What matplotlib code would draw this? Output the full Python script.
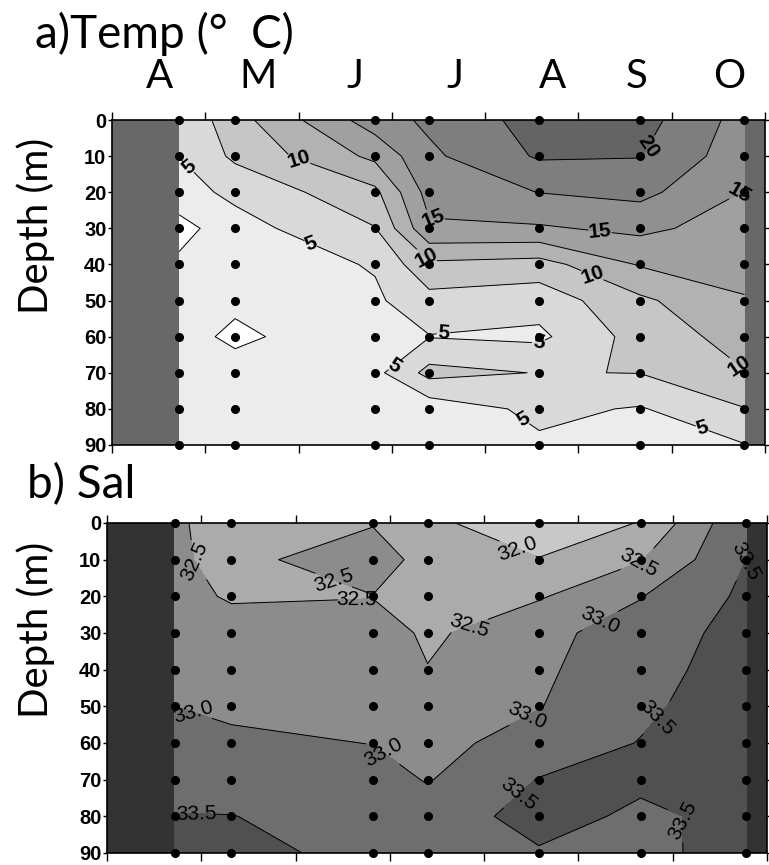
import numpy as np
import matplotlib.pyplot as plt

plt.rcParams['font.family'] = ['Liberation Sans', 'DejaVu Sans']

# ---- data -------------------------------------------------------------
months = ['A', 'M', 'J', 'J', 'A', 'S', 'O']
# sampling dates in month units (0 = 1 April)
stations = [0.72, 1.32, 2.82, 3.40, 4.58, 5.66, 6.78]
depths = [0, 10, 20, 30, 40, 50, 60, 70, 80, 90]

# temperature (deg C), one list per station, top to bottom
temp_1 = [5.4, 5.05, 4.0, 1.6, 3.0, 3.4, 3.4, 3.5, 3.5, 3.5]
temp_2 = [9.0, 8.0, 5.6, 4.0, 3.5, 3.0, 2.0, 3.5, 3.3, 3.3]
temp_3 = [16.3, 13.1, 9.4, 7.4, 5.2, 4.6, 4.3, 4.3, 3.8, 3.5]
temp_4 = [18.0, 17.0, 16.0, 14.6, 9.5, 6.6, 4.9, 8.3, 3.5, 3.5]
temp_5 = [21.0, 20.3, 17.55, 14.7, 9.0, 6.0, 4.5, 7.4, 5.6, 4.6]
temp_6 = [21.0, 20.1, 18.2, 15.6, 12.7, 9.5, 8.5, 7.55, 4.8, 4.0]
temp_7 = [16.5, 16.0, 14.9, 13.8, 13.0, 12.4, 11.0, 9.9, 7.4, 4.9]

# salinity
sal_1 = [32.6, 32.6, 32.65, 32.8, 32.9, 33.0, 33.2, 33.3, 33.52, 33.7]
sal_2 = [32.2, 32.3, 32.45, 32.7, 32.8, 32.9, 33.1, 33.3, 33.51, 33.6]
sal_3 = [32.45, 32.9, 32.48, 32.8, 32.9, 32.95, 32.99, 33.2, 33.3, 33.4]
sal_4 = [32.1, 32.2, 32.3, 32.4, 32.52, 32.75, 32.85, 32.97, 33.2, 33.4]
sal_5 = [31.7, 32.02, 32.45, 32.88, 32.92, 32.98, 33.2, 33.52, 33.7, 33.45]
sal_6 = [32.02, 32.47, 32.98, 33.2, 33.3, 33.4, 33.52, 33.6, 33.4, 33.3]
sal_7 = [33.45, 33.5, 33.6, 33.7, 33.75, 33.8, 33.8, 33.8, 33.65, 33.8]

temp_levels = [2.5, 5, 7.5, 10, 12.5, 15, 17.5, 20]
temp_labels = [5, 10, 15, 20]
sal_levels = [32.0, 32.5, 33.0, 33.5]

# ---- layout / style ---------------------------------------------------
month_label_x = [0.51, 1.56, 2.60, 3.68, 4.72, 5.62, 6.62]
# where the contour labels sit (month units, metres)
temp_label_pos = [(0.84, 12.5), (2.01, 10.5), (2.07, 39), (3.44, 28),
                  (3.37, 38), (5.74, 7.3), (5.23, 31), (5.16, 42),
                  (6.74, 21), (3.55, 58), (2.98, 66), (4.57, 64),
                  (6.70, 69), (4.41, 83), (6.33, 85)]
sal_label_pos = [(0.91, 11), (2.40, 16), (2.65, 21), (3.82, 25.6),
                 (4.35, 7.4), (5.65, 11.5), (5.25, 28), (6.78, 10.5),
                 (0.91, 52), (2.92, 63), (4.49, 55), (5.83, 53),
                 (0.95, 79), (4.49, 78.5), (6.26, 81)]
temp_colors = ['#ffffff', '#ececec', '#d9d9d9', '#c6c6c6', '#b2b2b2',
               '#a0a0a0', '#909090', '#7e7e7e', '#646464']
sal_colors = ['#c8c8c8', '#ababab', '#8c8c8c', '#6e6e6e', '#505050']
big_font = 'Lato'
tick_font = 'Liberation Sans'

temp = np.array([temp_1, temp_2, temp_3, temp_4, temp_5, temp_6, temp_7]).T
sal = np.array([sal_1, sal_2, sal_3, sal_4, sal_5, sal_6, sal_7]).T
X, D = np.meshgrid(stations, depths)

W, H = 769, 865
fig = plt.figure(figsize=(W / 100, H / 100), dpi=100)
ax1 = fig.add_axes([112 / W, 1 - 445 / H, 653 / W, 325 / H])
ax2 = fig.add_axes([107 / W, 1 - 853 / H, 660 / W, 330 / H])


def style_axis(ax, nodata):
    ax.set_facecolor(nodata)
    ax.set_xlim(0, 7)
    ax.set_ylim(90, 0)
    ax.set_xticks(range(8))
    ax.set_xticklabels([])
    ax.set_yticks(depths)
    ax.set_yticklabels([str(d) for d in depths], fontfamily=tick_font,
                       fontweight='bold', fontsize=14.5)
    ax.tick_params(axis='x', which='major', top=True, bottom=True,
                   direction='out', length=6, width=1)
    ax.tick_params(axis='y', left=True, right=True, direction='out',
                   length=3, width=1, pad=1)
    for sp in ax.spines.values():
        sp.set_linewidth(1.2)
    ax.plot(X.ravel(), D.ravel(), 'ko', ms=5.5, clip_on=False, zorder=5)


# ---- a) temperature ---------------------------------------------------
ax1.contourf(X, D, temp, levels=[-10] + temp_levels + [40], colors=temp_colors)
plain = [lv for lv in temp_levels if lv not in temp_labels]
ax1.contour(X, D, temp, levels=plain, colors='k', linewidths=0.7)
cs = ax1.contour(X, D, temp, levels=temp_labels, colors='k', linewidths=0.7)
lbl = ax1.clabel(cs, fmt='%d', fontsize=15, inline=True, inline_spacing=2,
                 manual=temp_label_pos)
for t in lbl:
    t.set_fontweight('bold')
style_axis(ax1, '#686868')
ax1.set_xticks(month_label_x, minor=True)
ax1.set_xticklabels(months, minor=True, fontfamily=big_font, fontsize=29)
ax1.tick_params(axis='x', which='minor', length=0, top=True, bottom=False,
                labeltop=True, labelbottom=False, pad=18)

# ---- b) salinity ------------------------------------------------------
ax2.contourf(X, D, sal, levels=[30] + sal_levels + [35], colors=sal_colors)
cs2 = ax2.contour(X, D, sal, levels=sal_levels, colors='k', linewidths=0.7)
ax2.clabel(cs2, fmt='%.1f', fontsize=15, inline=True, inline_spacing=2,
           manual=sal_label_pos)
style_axis(ax2, '#333333')

# ---- titles and axis names --------------------------------------------
fig.text(35 / W, 1 - 48 / H, 'a)Temp (°  C)', fontfamily=big_font,
         fontsize=33, va='baseline')
fig.text(27 / W, 1 - 498 / H, 'b) Sal', fontfamily=big_font,
         fontsize=33, va='baseline')
fig.text(36 / W, 1 - 226 / H, 'Depth (m)', fontfamily=big_font,
         fontsize=29, rotation=90, ha='center', va='center')
fig.text(36 / W, 1 - 630 / H, 'Depth (m)', fontfamily=big_font,
         fontsize=29, rotation=90, ha='center', va='center')

fig.savefig('out.png', dpi=100)
